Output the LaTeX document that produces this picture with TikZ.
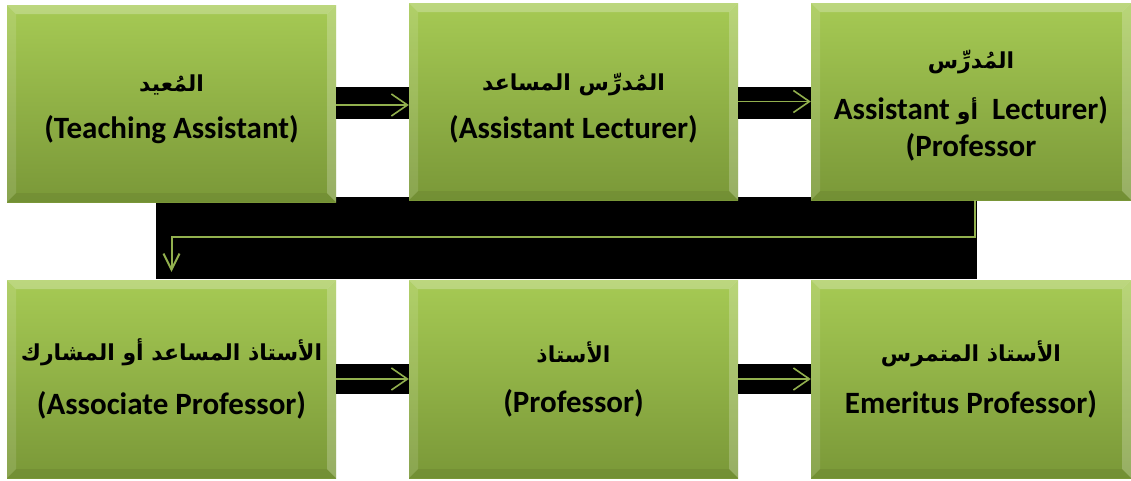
\documentclass[tikz,border=0pt]{standalone}
\usepackage{fontspec}
\setmainfont{Carlito}
\newfontfamily\arabicfont[Script=Arabic]{DejaVu Sans}
\TeXXeTstate=1
\usetikzlibrary{arrows.meta,calc}
\definecolor{gtop}{RGB}{166,202,84}
\definecolor{gbot}{RGB}{122,152,56}
\definecolor{lineg}{RGB}{146,176,78}
\tikzset{
  box/.style={rectangle, inner sep=0pt, minimum height=197pt,
    top color=gtop, bottom color=gbot, align=center,
    font=\fontsize{31}{44}\selectfont\bfseries,
    path picture={
      \fill[white,opacity=.25] (path picture bounding box.north west) -- (path picture bounding box.north east)
        -- ([shift={(-9pt,-9pt)}]path picture bounding box.north east) -- ([shift={(9pt,-9pt)}]path picture bounding box.north west) -- cycle;
      \fill[white,opacity=.12] (path picture bounding box.north west) -- ([shift={(9pt,-9pt)}]path picture bounding box.north west)
        -- ([shift={(9pt,9pt)}]path picture bounding box.south west) -- (path picture bounding box.south west) -- cycle;
      \fill[white,opacity=.22] (path picture bounding box.north east) -- ([shift={(-9pt,-9pt)}]path picture bounding box.north east)
        -- ([shift={(-9pt,9pt)}]path picture bounding box.south east) -- (path picture bounding box.south east) -- cycle;
      \fill[black,opacity=.06] (path picture bounding box.south west) -- ([shift={(9pt,9pt)}]path picture bounding box.south west)
        -- ([shift={(-9pt,9pt)}]path picture bounding box.south east) -- (path picture bounding box.south east) -- cycle;
    }},
  band/.style={fill=black},
  arr/.style={draw=lineg, line width=1.6pt, -{Straight Barb[length=16pt,width=22pt,line width=1.6pt]}},
  conn/.style={draw=lineg, line width=2pt, -{Straight Barb[length=16pt,width=16pt,line width=2pt]}},
}
\newcommand{\ar}[1]{{\arabicfont\bfseries\fontsize{22}{44}\selectfont\beginR #1\endR}}
\newcommand{\up}[1]{\rule{0pt}{#1}}
\begin{document}
\begin{tikzpicture}[x=1pt,y=-1pt]
\useasboundingbox (0,0) rectangle (1131,480);
% big black band behind
\fill[band] (156,197) rectangle (977,279);
% boxes
\node[box, minimum width=329pt] (b1) at (171.5,103.5) {\up{28pt}\ar{المُعيد}\\[3pt](Teaching Assistant)};
\node[box, minimum width=329pt] (b2) at (573.5,101.5) {\up{31pt}\ar{المُدرِّس المساعد}\\[4pt](Assistant Lecturer)};
\node[box, minimum width=320pt] (b3) at (971,101.5) {\up{26pt}\ar{المُدرِّس}\\[7pt]Assistant \ar{أو}\ \ Lecturer)\\[-7pt](Professor};
\node[box, minimum width=329pt, minimum height=198pt] (b4) at (171.5,379) {\ar{الأستاذ المساعد أو المشارك}\\[10pt](Associate Professor)};
\node[box, minimum width=329pt, minimum height=198pt] (b5) at (573.5,379) {\ar{الأستاذ}\\[6pt](Professor)};
\node[box, minimum width=320pt, minimum height=198pt] (b6) at (971,379) {\ar{الأستاذ المتمرس}\\[8pt]Emeritus Professor)};
% black bands for arrows
\fill[band] ([yshift=-15pt]b1.east) rectangle ([yshift=17pt]b1.east -| b2.west);
\fill[band] ([yshift=-17pt]b2.east) rectangle ([yshift=15pt]b2.east -| b3.west);
\fill[band] ([yshift=-15pt]b4.east) rectangle ([yshift=15pt]b4.east -| b5.west);
\fill[band] ([yshift=-15pt]b5.east) rectangle ([yshift=15pt]b5.east -| b6.west);
% arrows
\draw[arr] ([yshift=-1.5pt]b1.east) -- ([yshift=-1.5pt]b1.east -| b2.west);
\draw[arr] (b2.east) -- (b2.east -| b3.west);
\draw[arr] (b4.east) -- (b4.east -| b5.west);
\draw[arr] (b5.east) -- (b5.east -| b6.west);
% long connector
\coordinate (turn) at (0,237);
\coordinate (top) at (975,200);
\draw[conn, shorten >=8pt] (b3.south -| top) -- (top |- turn) -| (b4.north);
\end{tikzpicture}
\end{document}
